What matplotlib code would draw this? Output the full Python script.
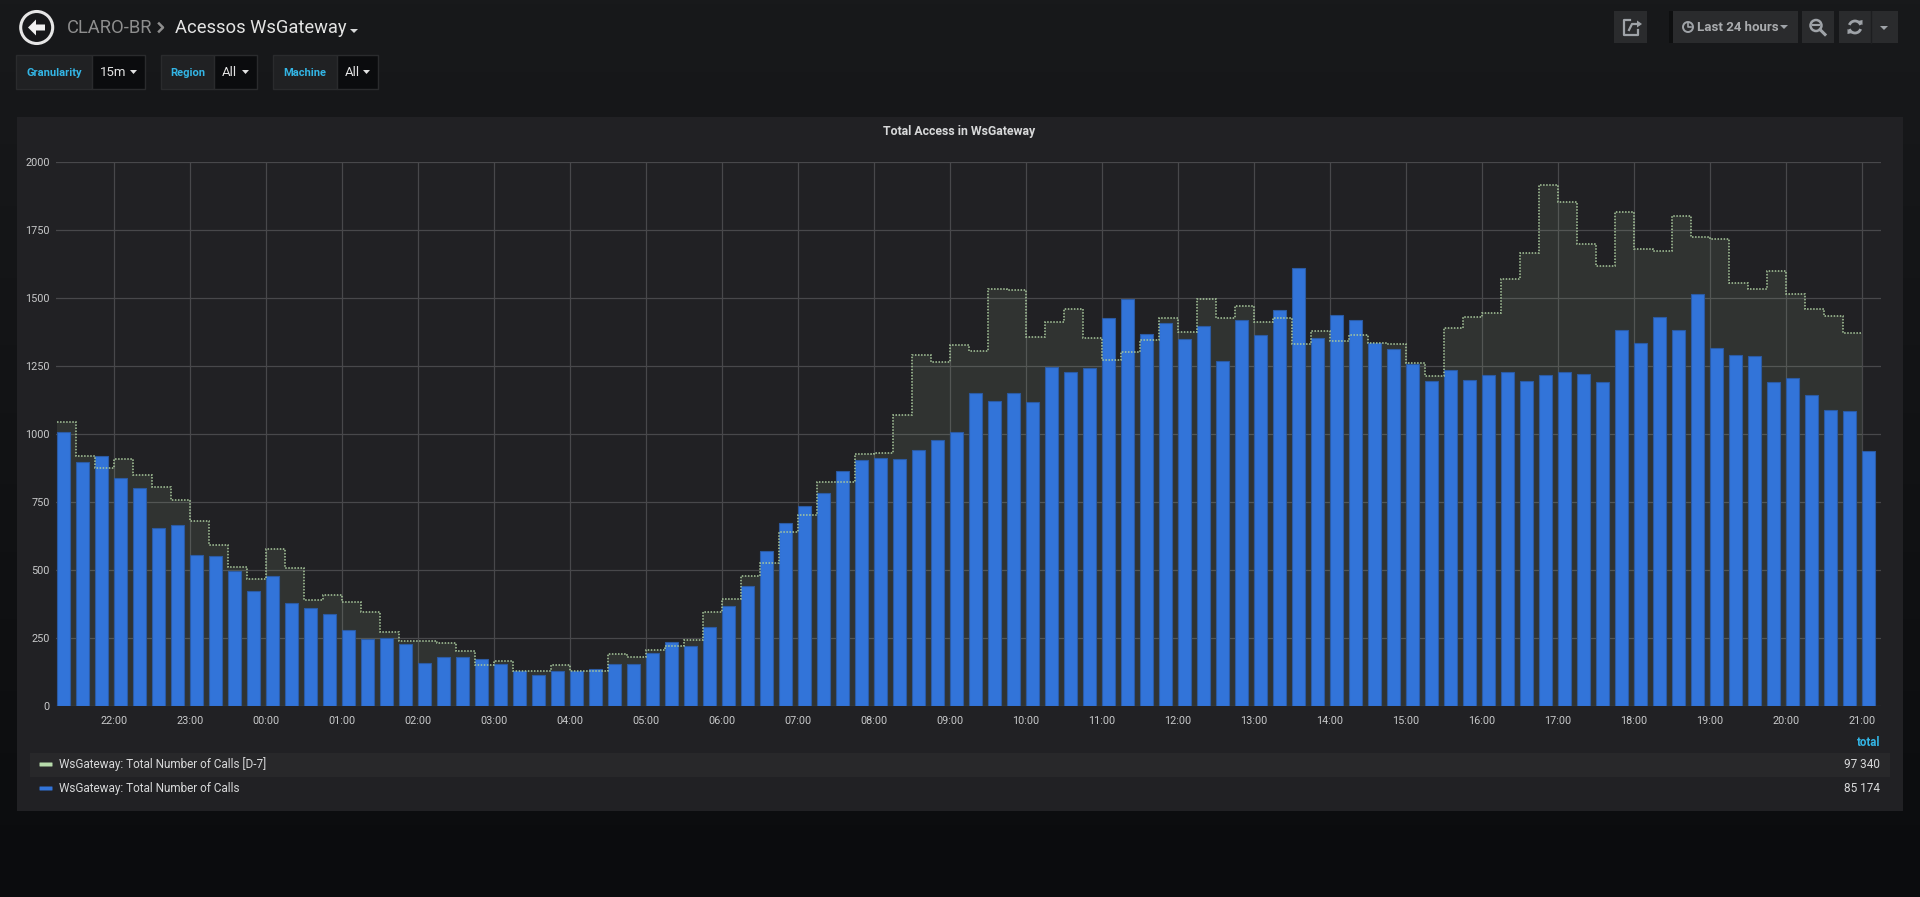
import numpy as np
import matplotlib
matplotlib.use("Agg")
import matplotlib.pyplot as plt
from matplotlib.patches import Rectangle, Circle, Polygon, Arc, FancyBboxPatch
from matplotlib.colors import LinearSegmentedColormap

plt.rcParams['font.family'] = ['Roboto', 'DejaVu Sans']

# 15 minute buckets from 21:15 (day before) to 21:00
calls = [1005, 897, 917, 838, 799, 653, 664, 554, 551, 495, 422, 478,
         380, 360, 338, 280, 246, 250, 228, 158, 180, 180, 174, 156,
         129, 115, 127, 129, 136, 155, 153, 195, 236, 219, 291, 367,
         439, 570, 672, 736, 783, 865, 902, 910, 906, 940, 977, 1006,
         1149, 1120, 1149, 1118, 1245, 1225, 1241, 1425, 1495, 1366, 1405, 1347,
         1394, 1266, 1416, 1363, 1454, 1610, 1352, 1435, 1418, 1332, 1312, 1257,
         1195, 1233, 1197, 1214, 1228, 1193, 1215, 1225, 1218, 1191, 1380, 1335,
         1428, 1380, 1515, 1314, 1291, 1287, 1190, 1205, 1141, 1086, 1084, 937]

calls_d7 = [1044, 920, 875, 909, 848, 806, 757, 678, 592, 511, 468, 577,
            508, 388, 406, 383, 347, 270, 239, 239, 232, 201, 152, 167,
            127, 127, 150, 127, 129, 190, 179, 204, 219, 242, 345, 394,
            477, 527, 640, 700, 823, 823, 925, 928, 1069, 1290, 1264, 1326,
            1305, 1532, 1527, 1356, 1412, 1458, 1353, 1270, 1302, 1343, 1425, 1374,
            1496, 1425, 1468, 1409, 1426, 1329, 1377, 1339, 1363, 1335, 1329, 1260,
            1212, 1388, 1430, 1442, 1568, 1664, 1914, 1852, 1698, 1616, 1814, 1679,
            1671, 1800, 1721, 1714, 1554, 1533, 1598, 1512, 1458, 1433, 1371]

hour_labels = ['22:00', '23:00', '00:00', '01:00', '02:00', '03:00', '04:00', '05:00',
               '06:00', '07:00', '08:00', '09:00', '10:00', '11:00', '12:00', '13:00',
               '14:00', '15:00', '16:00', '17:00', '18:00', '19:00', '20:00', '21:00']
y_ticks = [0, 250, 500, 750, 1000, 1250, 1500, 1750, 2000]

series_names = ['WsGateway: Total Number of Calls [D-7]', 'WsGateway: Total Number of Calls']
series_totals = ['97 340', '85 174']

BLUE = '#3274d9'
GREEN = '#b7dbab'
PANEL = '#212124'
TXT = '#d8d9da'
CYAN = '#33b5e5'

fig = plt.figure(figsize=(19.2, 8.97), dpi=100)

# background layer in pixel coordinates
bg = fig.add_axes([0, 0, 1, 1], zorder=0)
bg.set_xlim(0, 1920)
bg.set_ylim(897, 0)
bg.axis('off')
grad = np.linspace(0, 1, 200).reshape(-1, 1)
cmap = LinearSegmentedColormap.from_list('page', ['#18191b', '#0b0c0e'])
bg.imshow(grad, extent=[0, 1920, 897, 0], aspect='auto', cmap=cmap, zorder=0)

# header
bg.add_patch(Circle((36.7, 27.5), 16, fill=False, ec='#e6e6e6', lw=2.2))
bg.add_patch(Polygon([(28, 27.5), (36, 19.5), (36, 24.5), (45, 24.5),
                      (45, 30.5), (36, 30.5), (36, 35.5)], closed=True, fc='#f0f0f0', ec='none'))
bg.text(67, 28, 'CLARO-BR', color='#8e8e8e', fontsize=13.2, va='center', ha='left')
bg.plot([159, 163, 159], [23.5, 27.5, 31.5], color='#8e8e8e', lw=1.8)
bg.text(175, 28, 'Acessos WsGateway', color='#e3e3e3', fontsize=13.2, va='center', ha='left')
bg.add_patch(Polygon([(350, 29), (358, 29), (354, 33)], fc='#d8d9da', ec='none'))

# template variable boxes
filters = [('Granularity', '15m', 16, 92, 145), ('Region', 'All', 161, 214, 257), ('Machine', 'All', 273, 337, 378)]
for label, value, x0, xm, x1 in filters:
    bg.add_patch(Rectangle((x0, 55), xm - x0, 34, fc='#202123', ec='#2a2b2d', lw=1))
    bg.add_patch(Rectangle((xm, 55), x1 - xm, 34, fc='#0b0c0e', ec='#2a2b2d', lw=1))
    bg.text((x0 + xm) / 2, 72.5, label, color=CYAN, fontsize=8, fontweight='bold', va='center', ha='center')
    bg.text(xm + 8, 73, value, color='#e3e3e3', fontsize=9.5, va='center', ha='left')
    bg.add_patch(Polygon([(x1 - 15, 70), (x1 - 8, 70), (x1 - 11.5, 74)], fc='#e3e3e3', ec='none'))

# toolbar buttons
btn = '#2a2b2d'
icon = '#9fa3a8'
for x0, x1 in [(1614, 1647), (1673, 1798), (1802, 1834), (1839, 1898)]:
    bg.add_patch(Rectangle((x0, 11), x1 - x0, 32, fc=btn, ec='none'))
bg.add_patch(Rectangle((1669, 11), 4, 32, fc='#0e0f10', ec='none'))
bg.plot([1870.5, 1870.5], [11, 43], color='#1d1e20', lw=1)
# share icon
bg.plot([1630, 1624, 1624, 1638, 1638], [20, 20, 35, 35, 30], color=icon, lw=1.6)
bg.plot([1629, 1632, 1639], [30, 24, 24], color=icon, lw=1.6)
bg.add_patch(Polygon([(1637, 20.5), (1642, 24), (1637, 27.5)], fc=icon, ec='none'))
# time picker
bg.add_patch(Circle((1688, 27), 5, fill=False, ec=icon, lw=1.4))
bg.plot([1688, 1688, 1691], [23.5, 27, 27], color=icon, lw=1.2)
bg.text(1697, 27.5, 'Last 24 hours', color='#a9abae', fontsize=9.5, fontweight='bold', va='center', ha='left')
bg.add_patch(Polygon([(1780, 25), (1788, 25), (1784, 29)], fc=icon, ec='none'))
# zoom out
bg.add_patch(Circle((1816, 25.5), 5.5, fill=False, ec=icon, lw=1.8))
bg.plot([1820, 1825], [29.5, 34.5], color=icon, lw=2.2)
bg.plot([1813, 1819], [25.5, 25.5], color=icon, lw=1.5)
# refresh
bg.add_patch(Arc((1855, 27), 12, 12, theta1=200, theta2=340, ec=icon, lw=2))
bg.add_patch(Arc((1855, 27), 12, 12, theta1=20, theta2=160, ec=icon, lw=2))
bg.add_patch(Polygon([(1858, 21), (1862.5, 20), (1862.5, 25)], fc=icon, ec='none'))
bg.add_patch(Polygon([(1852, 33), (1847.5, 34), (1847.5, 29)], fc=icon, ec='none'))
bg.add_patch(Polygon([(1880, 26), (1888, 26), (1884, 30)], fc=icon, ec='none'))

# panel
bg.add_patch(Rectangle((17, 117), 1886, 694, fc=PANEL, ec='none'))
bg.text(959, 131, 'Total Access in WsGateway', color=TXT, fontsize=8.8, fontweight='bold',
        va='center', ha='center')

# legend
bg.text(1880, 742, 'total', color=CYAN, fontsize=8.3, fontweight='bold', va='center', ha='right')
bg.add_patch(Rectangle((30, 753), 1860, 24, fc='#28282a', ec='none'))
for k, (name, total, col) in enumerate(zip(series_names, series_totals, [GREEN, BLUE])):
    y = 764.5 + 24 * k
    bg.add_patch(FancyBboxPatch((40, y - 1.5), 12, 3, boxstyle='round,pad=0.5', fc=col, ec='none'))
    bg.text(59, y, name, color=TXT, fontsize=8.5, va='center', ha='left')
    bg.text(1880, y, total, color=TXT, fontsize=8.5, va='center', ha='right')

# chart
ax = fig.add_axes([0.02917, 0.21293, 0.95052, 0.60702], zorder=1)
ax.set_facecolor('none')
n = len(calls)
x = np.arange(n)
edges = np.arange(len(calls_d7) + 1)

ax.stairs(calls_d7, edges, baseline=0, fill=True, color=GREEN, alpha=0.1, lw=0, zorder=1)
ax.bar(x, calls, width=0.67, align='edge', color=BLUE, edgecolor='#2b5aa3', lw=0.8, zorder=2)
ax.stairs(calls_d7, edges, baseline=None, color='#a9c99d', lw=1.1, ls=(0, (1, 1)), zorder=3)

ax.set_xlim(-0.05, 96)
ax.set_ylim(0, 2000)
ax.set_xticks(np.arange(3, 96, 4))
ax.set_xticklabels(hour_labels)
ax.set_yticks(y_ticks)
ax.set_yticklabels([str(v) for v in y_ticks])
ax.tick_params(axis='both', length=0, colors='#c8c9ca', labelsize=7.8)
ax.tick_params(axis='x', pad=7)
ax.tick_params(axis='y', pad=4.5)
ax.grid(True, color='#48484b', lw=0.9)
ax.set_axisbelow(True)
for s in ax.spines.values():
    s.set_visible(False)

fig.savefig('out.png', dpi=100, facecolor='#161719')
